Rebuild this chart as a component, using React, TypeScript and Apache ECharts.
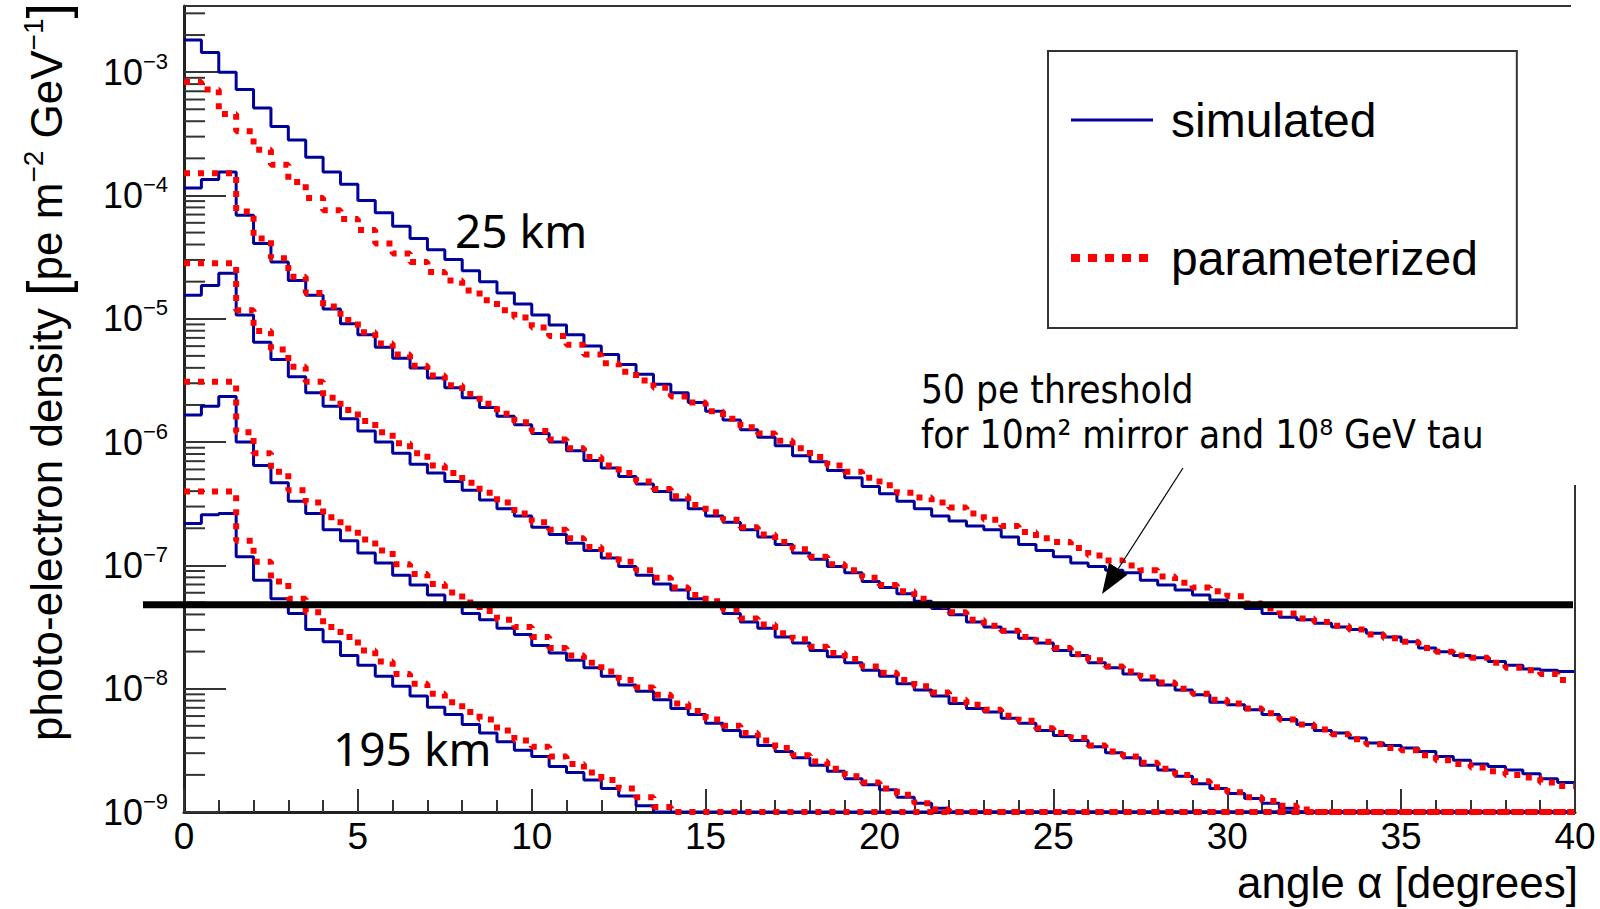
import React, { useEffect, useRef } from 'react';
import * as echarts from 'echarts';

// ---------- axes ----------
const binWidth = 0.5; // degrees per histogram bin
const xMin = 0;
const xMax = 40;
const xInterval = 5;
const yMin = 1e-9;
const yMax = 3.44e-3;
const thresholdValue = 4.8e-8; // 50 pe threshold line

// ---------- data: log10(photo-electron density) per 0.5 degree bin ----------
// curve 1 (25 km)
const simulated1 = [
  -2.74, -2.84, -3.00, -3.14, -3.29, -3.44, -3.55, -3.69, -3.81, -3.91,
  -4.04, -4.14, -4.25, -4.35, -4.44, -4.52, -4.61, -4.70, -4.79, -4.88,
  -4.97, -5.05, -5.13, -5.22, -5.29, -5.37, -5.45, -5.53, -5.60, -5.68,
  -5.75, -5.82, -5.90, -5.96, -6.03, -6.11, -6.16, -6.23, -6.29, -6.36,
  -6.42, -6.48, -6.54, -6.60, -6.64, -6.68, -6.71, -6.77, -6.83, -6.88,
  -6.93, -6.98, -7.01, -7.04, -7.06, -7.12, -7.16, -7.20, -7.24, -7.28,
  -7.31, -7.35, -7.39, -7.42, -7.44, -7.47, -7.50, -7.52, -7.55, -7.58,
  -7.62, -7.67, -7.70, -7.73, -7.75, -7.78, -7.81, -7.84, -7.85, -7.86,
];
const parameterized1 = [
  -3.08, -3.14, -3.34, -3.48, -3.63, -3.75, -3.89, -4.02, -4.12, -4.19,
  -4.28, -4.39, -4.47, -4.54, -4.62, -4.69, -4.77, -4.85, -4.93, -4.99,
  -5.07, -5.14, -5.21, -5.29, -5.36, -5.43, -5.50, -5.56, -5.63, -5.68,
  -5.75, -5.81, -5.88, -5.93, -5.99, -6.05, -6.12, -6.19, -6.24, -6.29,
  -6.35, -6.41, -6.45, -6.49, -6.53, -6.58, -6.63, -6.68, -6.73, -6.78,
  -6.81, -6.86, -6.92, -6.96, -7.00, -7.04, -7.09, -7.14, -7.18, -7.21,
  -7.25, -7.31, -7.35, -7.39, -7.43, -7.46, -7.49, -7.52, -7.56, -7.59,
  -7.62, -7.67, -7.70, -7.73, -7.75, -7.79, -7.83, -7.85, -7.88, -7.93,
];
// curve 2
const simulated2 = [
  -3.94, -3.87, -3.81, -4.16, -4.39, -4.54, -4.69, -4.81, -4.92, -5.04,
  -5.13, -5.23, -5.32, -5.40, -5.48, -5.56, -5.64, -5.72, -5.79, -5.86,
  -5.93, -6.00, -6.07, -6.15, -6.21, -6.28, -6.34, -6.40, -6.47, -6.54,
  -6.60, -6.65, -6.71, -6.77, -6.83, -6.90, -6.95, -7.01, -7.06, -7.13,
  -7.18, -7.23, -7.29, -7.35, -7.40, -7.46, -7.50, -7.54, -7.59, -7.63,
  -7.69, -7.73, -7.79, -7.83, -7.88, -7.93, -7.97, -8.01, -8.05, -8.11,
  -8.13, -8.17, -8.21, -8.25, -8.29, -8.34, -8.36, -8.40, -8.44, -8.46,
  -8.48, -8.51, -8.55, -8.58, -8.61, -8.63, -8.66, -8.69, -8.73, -8.76,
];
const parameterized2 = [
  -3.82, -3.82, -3.82, -4.13, -4.35, -4.51, -4.66, -4.79, -4.90, -5.01,
  -5.11, -5.20, -5.29, -5.38, -5.46, -5.54, -5.61, -5.69, -5.77, -5.84,
  -5.91, -5.98, -6.05, -6.12, -6.19, -6.25, -6.32, -6.38, -6.44, -6.51,
  -6.57, -6.63, -6.69, -6.75, -6.81, -6.87, -6.93, -6.99, -7.04, -7.10,
  -7.16, -7.21, -7.27, -7.33, -7.38, -7.44, -7.49, -7.53, -7.58, -7.62,
  -7.67, -7.72, -7.77, -7.82, -7.86, -7.91, -7.95, -8.00, -8.04, -8.09,
  -8.12, -8.16, -8.20, -8.25, -8.29, -8.33, -8.37, -8.41, -8.45, -8.48,
  -8.50, -8.54, -8.58, -8.61, -8.64, -8.67, -8.70, -8.72, -8.76, -8.79,
];
// curve 3
const simulated3 = [
  -4.81, -4.73, -4.63, -4.97, -5.19, -5.33, -5.47, -5.60, -5.71, -5.81,
  -5.91, -6.00, -6.09, -6.18, -6.25, -6.32, -6.39, -6.47, -6.54, -6.60,
  -6.69, -6.75, -6.82, -6.88, -6.94, -7.01, -7.08, -7.15, -7.20, -7.27,
  -7.32, -7.39, -7.46, -7.51, -7.58, -7.63, -7.69, -7.74, -7.79, -7.85,
  -7.90, -7.96, -8.01, -8.06, -8.12, -8.16, -8.19, -8.24, -8.28, -8.34,
  -8.38, -8.42, -8.47, -8.52, -8.56, -8.62, -8.66, -8.71, -8.77, -8.81,
  -8.85, -8.89, -8.93, -8.97, -9, -9, -9, -9, -9, -9,
  -9, -9, -9, -9, -9, -9, -9, -9, -9, -9,
];
const parameterized3 = [
  -4.55, -4.55, -4.55, -4.93, -5.10, -5.25, -5.39, -5.51, -5.64, -5.74,
  -5.83, -5.92, -6.01, -6.09, -6.19, -6.25, -6.33, -6.41, -6.49, -6.58,
  -6.65, -6.71, -6.78, -6.85, -6.92, -6.97, -7.04, -7.10, -7.18, -7.24,
  -7.29, -7.36, -7.43, -7.48, -7.55, -7.60, -7.66, -7.71, -7.76, -7.82,
  -7.87, -7.93, -7.98, -8.03, -8.09, -8.13, -8.17, -8.22, -8.26, -8.32,
  -8.36, -8.40, -8.46, -8.51, -8.55, -8.60, -8.65, -8.70, -8.75, -8.80,
  -8.84, -8.88, -8.91, -8.95, -8.98, -9, -9, -9, -9, -9,
  -9, -9, -9, -9, -9, -9, -9, -9, -9, -9,
];
// curve 4
const simulated4 = [
  -5.78, -5.71, -5.63, -6.00, -6.19, -6.33, -6.48, -6.58, -6.71, -6.80,
  -6.90, -6.98, -7.08, -7.16, -7.24, -7.31, -7.39, -7.44, -7.51, -7.56,
  -7.65, -7.71, -7.77, -7.83, -7.90, -7.97, -8.02, -8.09, -8.16, -8.21,
  -8.28, -8.34, -8.39, -8.46, -8.51, -8.56, -8.62, -8.67, -8.73, -8.78,
  -8.82, -8.88, -8.93, -8.97, -9, -9, -9, -9, -9, -9,
  -9, -9, -9, -9, -9, -9, -9, -9, -9, -9,
  -9, -9, -9, -9, -9, -9, -9, -9, -9, -9,
  -9, -9, -9, -9, -9, -9, -9, -9, -9, -9,
];
const parameterized4 = [
  -5.51, -5.51, -5.51, -5.92, -6.09, -6.24, -6.39, -6.49, -6.61, -6.70,
  -6.79, -6.88, -6.99, -7.07, -7.15, -7.22, -7.30, -7.37, -7.44, -7.50,
  -7.58, -7.67, -7.73, -7.79, -7.86, -7.93, -7.99, -8.05, -8.12, -8.18,
  -8.25, -8.30, -8.36, -8.42, -8.48, -8.54, -8.59, -8.65, -8.71, -8.76,
  -8.81, -8.86, -8.93, -8.98, -9, -9, -9, -9, -9, -9,
  -9, -9, -9, -9, -9, -9, -9, -9, -9, -9,
  -9, -9, -9, -9, -9, -9, -9, -9, -9, -9,
  -9, -9, -9, -9, -9, -9, -9, -9, -9, -9,
];
// curve 5 (195 km)
const simulated5 = [
  -6.66, -6.59, -6.58, -6.93, -7.12, -7.27, -7.39, -7.52, -7.62, -7.73,
  -7.81, -7.90, -7.98, -8.06, -8.15, -8.21, -8.29, -8.36, -8.43, -8.50,
  -8.55, -8.63, -8.68, -8.74, -8.81, -8.87, -8.95, -9, -9, -9,
  -9, -9, -9, -9, -9, -9, -9, -9, -9, -9,
  -9, -9, -9, -9, -9, -9, -9, -9, -9, -9,
  -9, -9, -9, -9, -9, -9, -9, -9, -9, -9,
  -9, -9, -9, -9, -9, -9, -9, -9, -9, -9,
  -9, -9, -9, -9, -9, -9, -9, -9, -9, -9,
];
const parameterized5 = [
  -6.40, -6.40, -6.40, -6.80, -6.97, -7.13, -7.27, -7.38, -7.50, -7.58,
  -7.69, -7.78, -7.88, -7.96, -8.04, -8.11, -8.19, -8.25, -8.34, -8.42,
  -8.47, -8.55, -8.61, -8.68, -8.74, -8.81, -8.88, -8.96, -9, -9,
  -9, -9, -9, -9, -9, -9, -9, -9, -9, -9,
  -9, -9, -9, -9, -9, -9, -9, -9, -9, -9,
  -9, -9, -9, -9, -9, -9, -9, -9, -9, -9,
  -9, -9, -9, -9, -9, -9, -9, -9, -9, -9,
  -9, -9, -9, -9, -9, -9, -9, -9, -9, -9,
];

const simulatedCurves = [simulated1, simulated2, simulated3, simulated4, simulated5];
const parameterizedCurves = [parameterized1, parameterized2, parameterized3, parameterized4, parameterized5];

const legendNames = ['simulated', 'parameterized'];
const curveLabels = ['25 km', '195 km'];
const thresholdLines = ['50 pe threshold', 'for 10m\u00B2 mirror and 10\u2078 GeV tau'];
const xTitle = 'angle \u03B1 [degrees]';

const yMajorTicks = [1e-9, 1e-8, 1e-7, 1e-6, 1e-5, 1e-4, 1e-3];
const yMinorTicks: number[] = [];
yMajorTicks.forEach((d) => {
  for (let k = 2; k <= 9; k++) {
    const v = k * d;
    if (v <= yMax) yMinorTicks.push(v);
  }
});

const BLUE = '#00009a';
const RED = '#ff0000';
const AXIS = '#222222';
const HELV = 'Liberation Sans, Arial, Helvetica, sans-serif';
const NOTO = 'Noto Sans, Open Sans, sans-serif';
const COND = 'DejaVu Sans Condensed, Noto Sans, sans-serif';

function toSteps(logs: number[]) {
  const pts = logs.map((e, i) => [xMin + i * binWidth, Math.max(Math.pow(10, e), yMin)]);
  pts.push([xMax, Math.max(Math.pow(10, logs[logs.length - 1]), yMin)]);
  return pts;
}

function buildOption() {
  const series: any[] = [];
  simulatedCurves.forEach((c) => {
    series.push({
      type: 'line',
      name: legendNames[0],
      data: toSteps(c),
      step: 'end',
      symbol: 'none',
      showSymbol: false,
      lineStyle: { color: BLUE, width: 3 },
      itemStyle: { color: BLUE },
      z: 3,
      silent: true,
    });
  });
  parameterizedCurves.forEach((c) => {
    series.push({
      type: 'line',
      name: legendNames[1],
      data: toSteps(c),
      step: 'end',
      symbol: 'none',
      showSymbol: false,
      lineStyle: { color: RED, width: 6, type: [6, 8], cap: 'butt' },
      itemStyle: { color: RED },
      z: 4,
      silent: true,
    });
  });
  // minor ticks of the logarithmic y axis (2..9 x 10^n)
  series.push({
    type: 'custom',
    silent: true,
    z: 1,
    data: yMinorTicks.map((v) => [xMin, v]),
    renderItem: (params: any, api: any) => {
      const p = api.coord([xMin, api.value(1)]);
      return {
        type: 'line',
        shape: { x1: p[0], y1: p[1], x2: p[0] + 21, y2: p[1] },
        style: { stroke: '#333', lineWidth: 2 },
      };
    },
  });

  return {
    animation: false,
    backgroundColor: '#ffffff',
    grid: { left: 184, right: 25, top: 6, bottom: 97, containLabel: false },
    xAxis: {
      type: 'value',
      min: xMin,
      max: xMax,
      interval: xInterval,
      axisLine: { show: true, onZero: false, lineStyle: { color: AXIS, width: 3 } },
      axisTick: { show: true, inside: true, length: 23, lineStyle: { color: '#333', width: 2 } },
      minorTick: { show: true, splitNumber: 5, length: 12, lineStyle: { color: '#333', width: 2 } },
      splitLine: { show: false },
      axisLabel: { show: true, margin: 6, fontSize: 37, fontFamily: HELV, color: '#000' },
    },
    yAxis: {
      type: 'log',
      logBase: 10,
      min: yMin,
      max: yMax,
      splitNumber: 10,
      axisLine: { show: true, onZero: false, lineStyle: { color: AXIS, width: 3 } },
      axisTick: { show: true, inside: true, length: 42, lineStyle: { color: '#333', width: 2 } },
      splitLine: { show: false },
      axisLabel: {
        show: true,
        margin: 16,
        formatter: (v: number) => {
          const e = Math.log10(v);
          const r = Math.round(e);
          if (Math.abs(e - r) > 1e-6) return '';
          return '{b|10}{s|\u2212' + Math.abs(r) + '}';
        },
        rich: {
          b: { fontSize: 36, fontFamily: HELV, color: '#000', lineHeight: 44, verticalAlign: 'middle' },
          s: { fontSize: 22, fontFamily: HELV, color: '#000', lineHeight: 22, verticalAlign: 'top' },
        },
      },
    },
    legend: {
      show: true,
      orient: 'vertical',
      left: 1048,
      top: 51,
      data: [
        { name: legendNames[0], lineStyle: { color: BLUE, width: 3 } },
        { name: legendNames[1], lineStyle: { color: RED, width: 8, type: [9, 8] } },
      ],
      selectedMode: false,
      itemWidth: 82,
      itemHeight: 10,
      itemGap: 82,
      padding: [41, 39, 42, 19],
      borderColor: '#333',
      borderWidth: 2,
      borderRadius: 0,
      backgroundColor: '#ffffff',
      itemStyle: { opacity: 0 },
      textStyle: { fontSize: 48, fontFamily: HELV, color: '#000', lineHeight: 56, padding: [0, 0, 0, 13] },
    },
    series,
  };
}

function buildGraphic(yThr: number) {
  // arrow geometry (pixels)
  const tip = [1102, 594];
  const tail = [1183, 468];
  const dx = tip[0] - tail[0];
  const dy = tip[1] - tail[1];
  const len = Math.sqrt(dx * dx + dy * dy);
  const ux = dx / len;
  const uy = dy / len;
  const headLen = 30;
  const headHalf = 11;
  const bx = tip[0] - ux * headLen;
  const by = tip[1] - uy * headLen;
  const px = -uy;
  const py = ux;

  return [
    // top frame line
    { type: 'line', silent: true, z: 10, shape: { x1: 184, y1: 6, x2: 1571, y2: 6 }, style: { stroke: '#333', lineWidth: 2 } },
    // right frame line (partial)
    { type: 'line', silent: true, z: 10, shape: { x1: 1575, y1: 485, x2: 1575, y2: 812 }, style: { stroke: '#333', lineWidth: 2 } },
    // threshold line
    { type: 'line', silent: true, z: 20, shape: { x1: 143, y1: yThr, x2: 1573, y2: yThr }, style: { stroke: '#000', lineWidth: 7 } },
    // arrow
    { type: 'line', silent: true, z: 20, shape: { x1: tail[0], y1: tail[1], x2: bx, y2: by }, style: { stroke: '#000', lineWidth: 1.2 } },
    {
      type: 'polygon', silent: true, z: 20,
      shape: { points: [[tip[0], tip[1]], [bx + px * headHalf, by + py * headHalf], [bx - px * headHalf, by - py * headHalf]] },
      style: { fill: '#000' },
    },
    // annotations
    { type: 'text', silent: true, z: 20, x: 455, y: 230, style: { text: curveLabels[0], fontSize: 46, fontFamily: NOTO, fill: '#000', align: 'left', verticalAlign: 'middle' } },
    { type: 'text', silent: true, z: 20, x: 333, y: 748, style: { text: curveLabels[1], fontSize: 46, fontFamily: NOTO, fill: '#000', align: 'left', verticalAlign: 'middle' } },
    { type: 'text', silent: true, z: 20, x: 921, y: 389.5, style: { text: thresholdLines[0], fontSize: 38.5, fontFamily: COND, fill: '#000', align: 'left', verticalAlign: 'middle' } },
    { type: 'text', silent: true, z: 20, x: 921, y: 434.5, style: { text: thresholdLines[1], fontSize: 38.5, fontFamily: COND, fill: '#000', align: 'left', verticalAlign: 'middle' } },
    // x axis title
    { type: 'text', silent: true, z: 20, x: 1578, y: 882, style: { text: xTitle, fontSize: 44, fontFamily: HELV, fill: '#000', align: 'right', verticalAlign: 'middle' } },
    // y axis title
    {
      type: 'text', silent: true, z: 20, x: 46, y: 372, rotation: Math.PI / 2,
      style: {
        text: '{t|photo-electron density }{br|[}{t|pe m}{s|\u22122}{t| GeV}{s|\u22121}{br|]}',
        align: 'center',
        verticalAlign: 'middle',
        fill: '#000',
        rich: {
          t: { fontSize: 44, fontFamily: HELV, fill: '#000', lineHeight: 54, verticalAlign: 'middle' },
          s: { fontSize: 28, fontFamily: HELV, fill: '#000', lineHeight: 28, verticalAlign: 'top' },
          br: { fontSize: 56, fontFamily: HELV, fill: '#000', lineHeight: 54, verticalAlign: 'middle' },
        },
      },
    },
  ];
}

export default function App() {
  const ref = useRef<HTMLDivElement>(null);
  useEffect(() => {
    if (!ref.current) return;
    const chart = echarts.init(ref.current, null, { renderer: 'svg' });
    chart.setOption(buildOption() as any);
    const yThr = chart.convertToPixel({ yAxisIndex: 0 }, thresholdValue) as number;
    chart.setOption({ graphic: buildGraphic(yThr) } as any);
    return () => chart.dispose();
  }, []);
  return (
    <div
      ref={ref}
      style={{ position: 'absolute', left: 0, top: 0, width: 1600, height: 909, background: '#ffffff' }}
    />
  );
}
